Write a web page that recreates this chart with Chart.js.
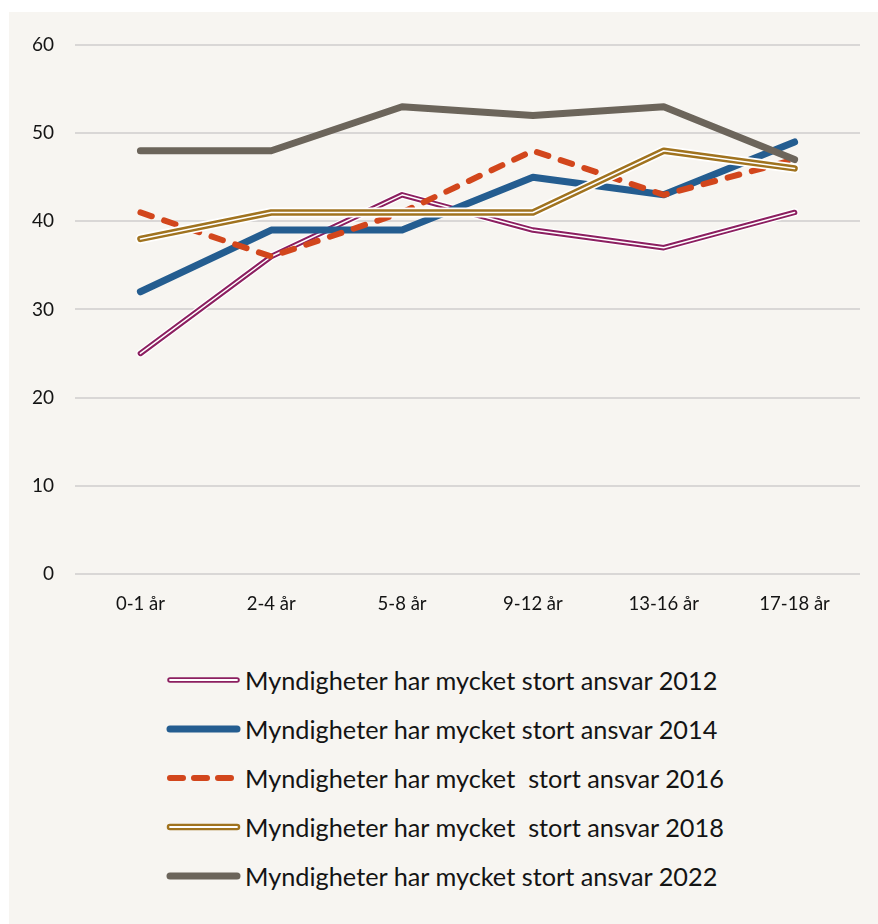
<!DOCTYPE html>
<html>
<head>
<meta charset="utf-8">
<script src="https://cdn.jsdelivr.net/npm/chart.js@4/dist/chart.umd.min.js"></script>
<style>
  body { margin: 0; background: #ffffff; font-family: Lato, sans-serif; }
  #panel { position: absolute; left: 9px; top: 12px; width: 869px; height: 912px; background: #f7f5f1; }
  #wrap { position: relative; width: 869px; height: 640px; }
  #legend { position: absolute; left: 157px; top: 643px; }
  .row { display: flex; align-items: center; height: 49px; }
  .row svg { margin-right: 3px; }
  .row span { font-size: 25.3px; color: #141414; white-space: pre; }
</style>
</head>
<body>
<div id="panel">
  <div id="wrap"><canvas id="chart"></canvas></div>
  <div id="legend"></div>
</div>
<script>
// categories + series
const categories = ['0-1 år', '2-4 år', '5-8 år', '9-12 år', '13-16 år', '17-18 år'];
const yTicks = [0, 10, 20, 30, 40, 50, 60];

const values2012 = [25, 36, 43, 39, 37, 41];
const values2014 = [32, 39, 39, 45, 43, 49];
const values2016 = [41, 36, 41, 48, 43, 47];
const values2018 = [38, 41, 41, 41, 48, 46];
const values2022 = [48, 48, 53, 52, 53, 47];

const seriesLabels = [
  'Myndigheter har mycket stort ansvar 2012',
  'Myndigheter har mycket stort ansvar 2014',
  'Myndigheter har mycket  stort ansvar 2016',
  'Myndigheter har mycket  stort ansvar 2018',
  'Myndigheter har mycket stort ansvar 2022'
];

const MAGENTA = '#8c1f60';
const BLUE = '#245d90';
const ORANGE = '#d2461c';
const GOLD = '#a0731f';
const GRAY = '#6c655b';
const WHITE = '#ffffff';

// one drawn layer of a line; double lines are built from several of these
function layer(data, color, width, order, dash) {
  return {
    data: data,
    borderColor: color,
    borderWidth: width,
    borderDash: dash || [],
    borderCapStyle: 'round',
    borderJoinStyle: 'round',
    pointRadius: 0,
    fill: false,
    tension: 0,
    order: order
  };
}

const datasets = [
  layer(values2012, WHITE, 8, 101),
  layer(values2012, MAGENTA, 5.5, 100),
  layer(values2012, WHITE, 1.5, 99),
  layer(values2014, BLUE, 7, 90),
  layer(values2016, ORANGE, 6, 80, [12, 13]),
  layer(values2018, WHITE, 10, 72),
  layer(values2018, GOLD, 6.5, 71),
  layer(values2018, WHITE, 1.5, 70),
  layer(values2022, GRAY, 7, 60)
];

const ctx = document.getElementById('chart').getContext('2d');
const chart = new Chart(ctx, {
  type: 'line',
  data: { labels: categories, datasets: datasets },
  options: {
    responsive: true,
    maintainAspectRatio: false,
    animation: false,
    layout: { padding: { top: 33, right: 18, left: 19, bottom: 18 } },
    plugins: { legend: { display: false }, tooltip: { enabled: false } },
    scales: {
      x: {
        offset: true,
        grid: { display: false, drawTicks: false },
        border: { display: false },
        ticks: { color: '#141414', font: { family: 'Lato', size: 18.5 }, padding: 19, maxRotation: 0 }
      },
      y: {
        min: 0,
        max: 60,
        afterFit: (scale) => { scale.width = 47; },
        afterBuildTicks: (scale) => { scale.ticks = yTicks.map(v => ({ value: v })); },
        grid: { color: '#d9d7d6', lineWidth: 2, drawTicks: false },
        border: { display: false },
        ticks: { color: '#141414', font: { family: 'Lato', size: 19 }, padding: 21 }
      }
    }
  }
});

// legend swatches
function swatch(i) {
  const ns = 'http://www.w3.org/2000/svg';
  const svg = document.createElementNS(ns, 'svg');
  svg.setAttribute('width', '76');
  svg.setAttribute('height', '14');
  function line(color, w, dash) {
    const l = document.createElementNS(ns, 'line');
    l.setAttribute('x1', '4'); l.setAttribute('x2', '71');
    l.setAttribute('y1', '7'); l.setAttribute('y2', '7');
    l.setAttribute('stroke', color);
    l.setAttribute('stroke-width', w);
    l.setAttribute('stroke-linecap', 'round');
    if (dash) l.setAttribute('stroke-dasharray', dash);
    svg.appendChild(l);
  }
  if (i === 0) { line(MAGENTA, 5.5); line(WHITE, 1.8); }
  if (i === 1) { line(BLUE, 7); }
  if (i === 2) { line(ORANGE, 6, '13 11'); }
  if (i === 3) { line(GOLD, 6.5); line(WHITE, 1.8); }
  if (i === 4) { line(GRAY, 7); }
  return svg;
}

const legendEl = document.getElementById('legend');
seriesLabels.forEach((txt, i) => {
  const row = document.createElement('div');
  row.className = 'row';
  row.appendChild(swatch(i));
  const s = document.createElement('span');
  s.textContent = txt;
  row.appendChild(s);
  legendEl.appendChild(row);
});
</script>
</body>
</html>
